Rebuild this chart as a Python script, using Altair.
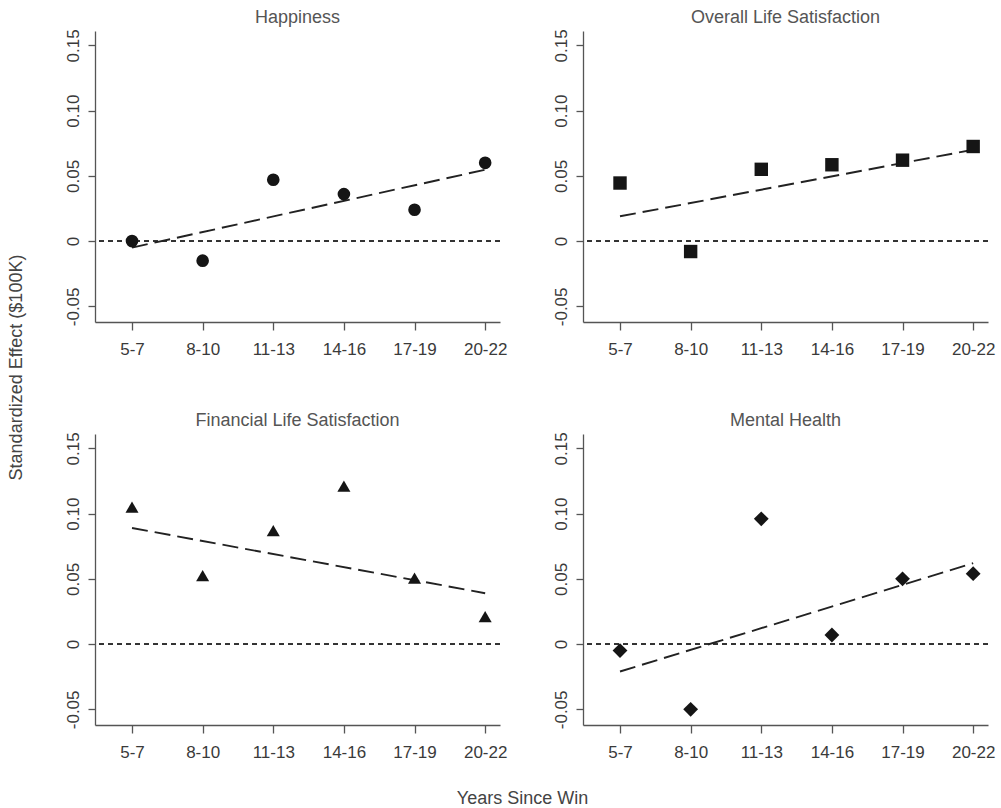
import altair as alt
import pandas as pd

categories = ["5-7", "8-10", "11-13", "14-16", "17-19", "20-22"]
panel_titles = ["Happiness", "Overall Life Satisfaction",
                "Financial Life Satisfaction", "Mental Health"]
shapes = ["circle", "square", "triangle-up", "diamond"]
sizes = [160, 180, 170, 220]

happiness = [0.000, -0.015, 0.047, 0.036, 0.024, 0.060]
overall = [0.0445, -0.008, 0.055, 0.0585, 0.062, 0.0725]
financial = [0.105, 0.0525, 0.087, 0.121, 0.0505, 0.021]
mental = [-0.005, -0.050, 0.096, 0.007, 0.050, 0.054]
series = [happiness, overall, financial, mental]

fit_start = [-0.005, 0.019, 0.089, -0.021]
fit_end = [0.0547, 0.070, 0.039, 0.062]

y_ticks = [-0.05, 0.0, 0.05, 0.10, 0.15]
y_domain = [-0.062, 0.161]
x_domain = [0.476, 6.21]

FONT = "Liberation Sans"
PANEL_W, PANEL_H = 405, 291

x_label_expr = "[" + ",".join("'" + c + "'" for c in categories) + "][datum.value - 1]"
y_label_expr = ("datum.value == 0 ? '0' : (datum.value < 0 ? '-' + format(-datum.value, '.2f')"
                " : format(datum.value, '.2f'))")


def panel(i):
    df = pd.DataFrame({"idx": list(range(1, len(categories) + 1)), "value": series[i]})
    fit = pd.DataFrame({"idx": [1, len(categories)], "value": [fit_start[i], fit_end[i]]})

    xaxis_kw = dict(values=list(range(1, len(categories) + 1)), labelExpr=x_label_expr,
                    title=None)
    yaxis_kw = dict(values=y_ticks, labelExpr=y_label_expr, title=None)
    if i == 0:
        yaxis_kw.update(title="Standardized Effect ($100K)", titleX=-79, titleY=336,
                        titleAngle=270, titleAlign="center", titleBaseline="middle")
    if i == 2:
        xaxis_kw.update(title="Years Since Win", titleX=427, titleY=73,
                        titleAlign="center", titleBaseline="middle", titleAngle=0)

    x = alt.X("idx:Q", scale=alt.Scale(domain=x_domain, nice=False, zero=False),
              axis=alt.Axis(**xaxis_kw))
    y = alt.Y("value:Q", scale=alt.Scale(domain=y_domain, nice=False, zero=False),
              axis=alt.Axis(**yaxis_kw))

    zero = alt.Chart(df).mark_rule(color="#333333", strokeWidth=1.1,
                                   strokeDash=[5, 4]).encode(y=alt.datum(0))
    line = alt.Chart(fit).mark_line(color="#222222", strokeWidth=1.9,
                                    strokeDash=[16, 7]).encode(x=x, y=y)
    pts = alt.Chart(df).mark_point(shape=shapes[i], filled=True, opacity=1,
                                   size=sizes[i], color="#151515").encode(x=x, y=y)

    return alt.layer(zero, line, pts).properties(
        width=PANEL_W, height=PANEL_H,
        title=alt.TitleParams(panel_titles[i], fontSize=18, font=FONT, color="#555555",
                              fontWeight="normal", anchor="middle", offset=2),
    )


chart = alt.concat(
    *[panel(i) for i in range(4)], columns=2,
    spacing=alt.RowColnumber(row=112, column=83), bounds="flush",
).properties(
    padding={"left": 7, "top": 8, "right": 5, "bottom": 2},
).configure_view(stroke=None).configure_axis(
    grid=False, domainColor="#555555", tickColor="#555555", domainWidth=1.3, tickWidth=1.3,
    labelColor="#3a3a3a", labelFont=FONT, labelFontSize=17,
    titleColor="#444444", titleFont=FONT, titleFontSize=18, titleFontWeight="normal",
).configure_axisX(
    tickSize=8, labelPadding=11,
).configure_axisY(
    tickSize=7, labelPadding=6, labelAngle=270, labelAlign="center", labelBaseline="bottom",
)

chart.save("out.html", embed_options={"renderer": "svg", "actions": False})
